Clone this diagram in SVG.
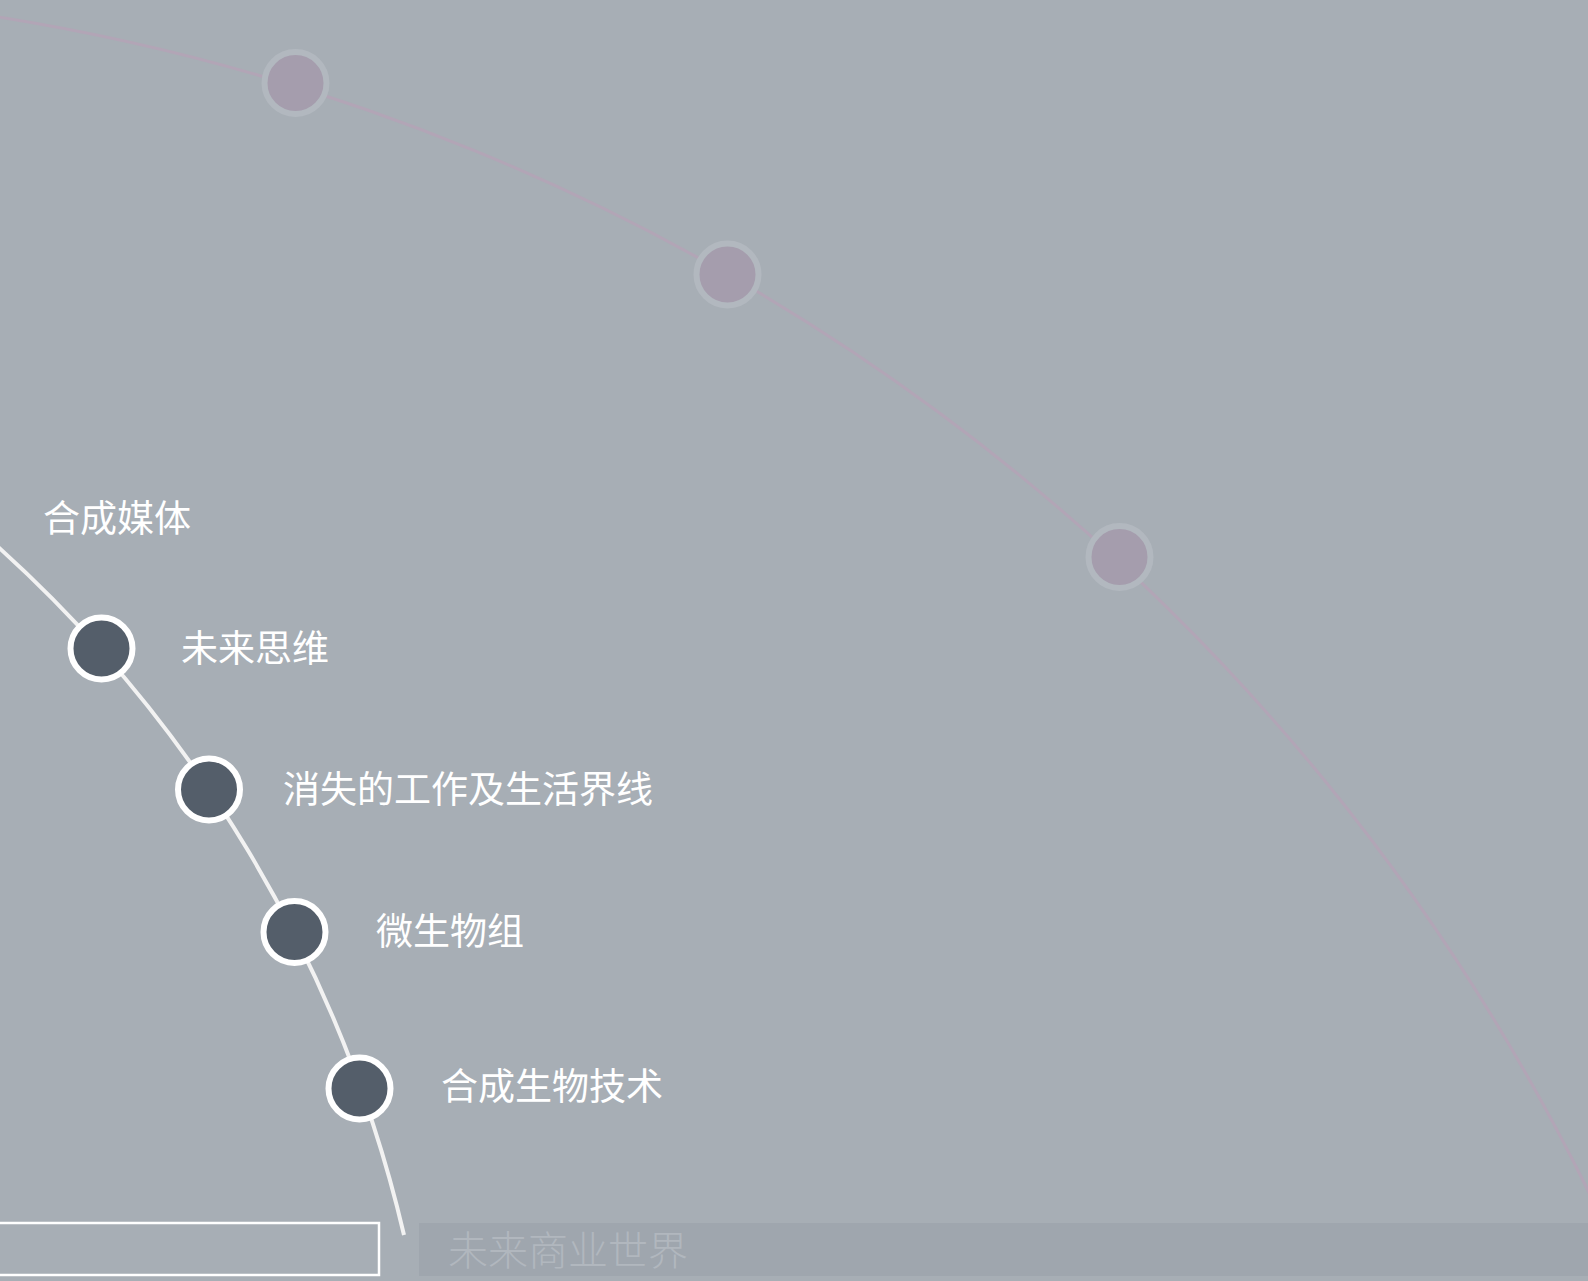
<svg xmlns="http://www.w3.org/2000/svg" width="1588" height="1281" viewBox="0 0 1588 1281">
<style>
.bg{fill:#a7aeb5}
.outer-arc{fill:none;stroke:#b2a5b6;stroke-width:3}
.inner-arc{fill:none;stroke:#f2f2f2;stroke-width:4}
.far{fill:#a59dad;stroke:#b2b8bf;stroke-width:6}
.near{fill:#545e6a;stroke:#ffffff;stroke-width:6}
.lbl{font-family:"Noto Sans CJK SC","Noto Sans",sans-serif;font-size:37px;fill:#ffffff}
.band-text{font-family:"Noto Sans CJK SC","Noto Sans",sans-serif;font-size:40px;font-weight:300;fill:#b1b7be}
</style>
<rect class="bg" x="0" y="0" width="1588" height="1281"/>
<g id="connectors">
<path class="outer-arc" d="M -20 14.1 A 2150 2150 0 0 1 1600 1215.3"/>
<path class="inner-arc" d="M -20 530.8 A 1339 1339 0 0 1 404 1235"/>
</g>
<g id="far-node-1"><circle class="far" cx="295.5" cy="83" r="31"/></g>
<g id="far-node-2"><circle class="far" cx="727.5" cy="274.5" r="31"/></g>
<g id="far-node-3"><circle class="far" cx="1119.5" cy="557" r="31"/></g>
<g id="node-synthetic-media"><text class="lbl" x="43" y="532">合成媒体</text></g>
<g id="node-future-thinking">
<circle class="near" cx="101.5" cy="648.5" r="31"/>
<text class="lbl" x="181" y="662">未来思维</text>
</g>
<g id="node-work-life">
<circle class="near" cx="209" cy="789.5" r="31"/>
<text class="lbl" x="283" y="803">消失的工作及生活界线</text>
</g>
<g id="node-microbiome">
<circle class="near" cx="294.5" cy="932" r="31"/>
<text class="lbl" x="376" y="945">微生物组</text>
</g>
<g id="node-synbio">
<circle class="near" cx="359.5" cy="1088.5" r="31"/>
<text class="lbl" x="441" y="1100">合成生物技术</text>
</g>
<g id="bottom-box">
<rect x="-5" y="1223" width="384" height="52" fill="none" stroke="#ffffff" stroke-width="2.5"/>
</g>
<g id="bottom-band">
<rect x="419" y="1223" width="1175" height="53" fill="#9fa6ae"/>
<text class="band-text" x="448" y="1265">未来商业世界</text>
</g>
</svg>
